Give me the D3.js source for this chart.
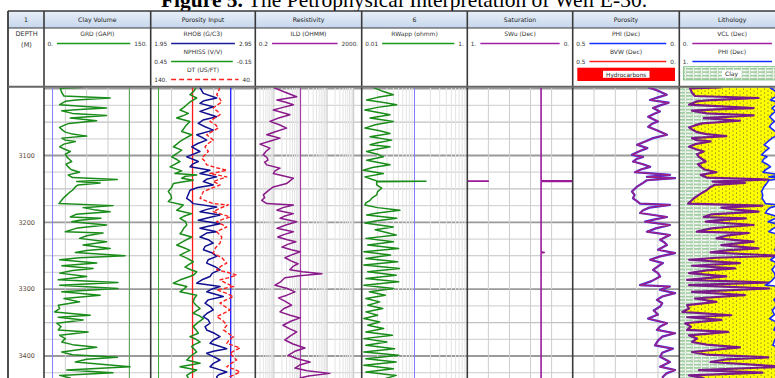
<!DOCTYPE html>
<html>
<head>
<meta charset="utf-8">
<script src="https://cdn.jsdelivr.net/npm/d3@7"></script>
<style>
  body { margin: 0; background: #fff; }
  svg { display: block; }
</style>
</head>
<body>
<svg id="chart" width="775" height="378"></svg>
<script>
// ---- Well E-30 log data: [depth (m), value] ----
const depthTicks = [3100, 3200, 3300, 3400];
const trackTitles = ["1", "Clay Volume", "Porosity Input", "Resistivity", "6", "Saturation", "Porosity", "Lithology"];

const grd = [[2998,55],[2999.5,23],[3006,25],[3011,28],[3014,93],[3017,45],[3019,30],[3024,22],[3029,88],[3031,50],[3033,25],[3037,40],[3040,88],[3044,37],[3048,74],[3052,35],[3055,28],[3058,22],[3062,26],[3065,30],[3068,40],[3071,60],[3074,25],[3077,30],[3079,44],[3083,28],[3087,22],[3091,30],[3094,37],[3098,30],[3102,32],[3106,36],[3109,39],[3113,31],[3117,34],[3121,38],[3125,50],[3129,34],[3133,40],[3136,103],[3139,46],[3141,79],[3144,48],[3147,44],[3152,40],[3156,35],[3160,31],[3164,27],[3168,24],[3172,21],[3175,97],[3178,55],[3181,70],[3184,93],[3188,45],[3192,37],[3194,80],[3197,50],[3199,39],[3204,88],[3207,60],[3209,45],[3214,30],[3216,83],[3220,60],[3224,50],[3229,88],[3234,55],[3239,93],[3242,60],[3245,44],[3250,114],[3253,50],[3256,22],[3261,74],[3265,25],[3269,69],[3272,40],[3276,22],[3281,60],[3286,20],[3290,104],[3294,22],[3299,104],[3304,25],[3309,79],[3314,28],[3319,50],[3324,20],[3329,22],[3334,15],[3339,65],[3342,20],[3346,55],[3351,18],[3356,24],[3361,20],[3364,62],[3369,22],[3374,30],[3379,25],[3383,40],[3387,74],[3394,25],[3398,40],[3402,103],[3405,60],[3409,44],[3416,121],[3421,32],[3425,97],[3429,22],[3433,37],[3440,40]];

const rhob = [[2998,2.42],[3007,2.453],[3014,2.581],[3018,2.46],[3022,2.421],[3027,2.548],[3034,2.421],[3038,2.5],[3042,2.581],[3047,2.45],[3052,2.405],[3057,2.47],[3062,2.548],[3069,2.39],[3073,2.44],[3077,2.485],[3082,2.4],[3087,2.342],[3094,2.421],[3102,2.294],[3106,2.36],[3109,2.405],[3113,2.35],[3117,2.326],[3122,2.517],[3127,2.421],[3132,2.581],[3135,2.49],[3139,2.453],[3144,2.548],[3148,2.4],[3152,2.326],[3158,2.31],[3164,2.294],[3168,2.33],[3172,2.357],[3177,2.581],[3181,2.48],[3184,2.421],[3189,2.613],[3193,2.5],[3197,2.405],[3202,2.613],[3206,2.5],[3209,2.421],[3214,2.581],[3216,2.485],[3222,2.421],[3226,2.5],[3231,2.548],[3236,2.47],[3241,2.453],[3246,2.54],[3251,2.581],[3256,2.5],[3261,2.485],[3266,2.56],[3271,2.613],[3276,2.54],[3281,2.517],[3286,2.44],[3291,2.39],[3296,2.613],[3300,2.53],[3304,2.485],[3311,2.644],[3316,2.5],[3321,2.469],[3326,2.52],[3331,2.548],[3336,2.49],[3341,2.453],[3346,2.5],[3351,2.517],[3356,2.47],[3361,2.485],[3366,2.56],[3371,2.613],[3376,2.55],[3381,2.517],[3385,2.6],[3389,2.677],[3393,2.55],[3396,2.485],[3401,2.55],[3406,2.613],[3411,2.55],[3416,2.517],[3420,2.6],[3424,2.677],[3428,2.6],[3431,2.581],[3440,2.6]];

const nphi = [[2998,0.19],[3003,0.2],[3009,0.225],[3014,0.186],[3019,0.22],[3024,0.243],[3028,0.26],[3032,0.282],[3037,0.234],[3041,0.27],[3044,0.301],[3049,0.225],[3056,0.25],[3064,0.272],[3069,0.215],[3074,0.25],[3079,0.282],[3083,0.3],[3087,0.32],[3092,0.272],[3097,0.3],[3102,0.33],[3106,0.3],[3109,0.282],[3113,0.31],[3117,0.339],[3123,0.272],[3127,0.311],[3129,0.186],[3131,0.25],[3134,0.272],[3137,0.206],[3140,0.28],[3142,0.32],[3148,0.33],[3154,0.349],[3159,0.335],[3164,0.33],[3169,0.349],[3174,0.263],[3178,0.28],[3182,0.301],[3187,0.215],[3191,0.26],[3194,0.282],[3199,0.25],[3204,0.243],[3209,0.26],[3214,0.272],[3217,0.282],[3222,0.215],[3228,0.26],[3234,0.301],[3238,0.26],[3242,0.225],[3246,0.26],[3249,0.282],[3254,0.24],[3259,0.206],[3263,0.23],[3267,0.253],[3271,0.22],[3274,0.186],[3278,0.2],[3281,0.225],[3286,0.28],[3291,0.32],[3296,0.243],[3300,0.26],[3304,0.282],[3309,0.186],[3314,0.2],[3319,0.206],[3324,0.19],[3329,0.167],[3333,0.19],[3336,0.206],[3340,0.17],[3344,0.148],[3350,0.18],[3356,0.206],[3361,0.19],[3366,0.177],[3371,0.225],[3375,0.19],[3379,0.167],[3383,0.2],[3386,0.215],[3390,0.2],[3394,0.186],[3400,0.22],[3406,0.243],[3411,0.167],[3416,0.282],[3421,0.186],[3425,0.22],[3429,0.243],[3440,0.22]];

const dt = [[2998,74],[3003,75],[3009,76.9],[3015,74],[3020,72.1],[3025,77],[3029,80.2],[3034,76],[3039,73.7],[3044,79],[3049,83.3],[3054,78],[3059,75.4],[3064,81],[3069,86.5],[3073,83],[3077,80.2],[3082,85],[3087,88.1],[3094,84.9],[3099,88],[3104,91.2],[3109,88],[3114,86.5],[3118,78],[3122,67.3],[3125,76],[3127,83.3],[3132,67.3],[3136,75],[3139,80.2],[3144,73.7],[3149,82],[3154,89.7],[3159,91],[3164,92.9],[3168,87],[3172,80.2],[3174,65.8],[3179,74],[3184,80.2],[3188,72],[3192,64.2],[3196,72],[3199,76.9],[3203,72],[3207,67.3],[3211,73],[3214,76.9],[3222,72],[3231,73.7],[3238,78],[3246,80.2],[3253,72],[3261,67.3],[3266,73],[3271,76.9],[3275,66],[3279,57.8],[3283,66],[3286,73.7],[3291,68],[3296,61],[3299,70],[3301,76.9],[3306,68],[3311,61],[3316,68],[3321,73.7],[3326,69],[3331,64.2],[3336,70],[3341,76.9],[3347,71],[3354,67.3],[3361,70.5],[3366,66],[3371,61],[3376,65],[3381,67.3],[3385,60],[3388,54.6],[3392,60],[3396,64.2],[3401,61],[3406,57.8],[3411,63],[3416,67.3],[3420,60],[3424,54.6],[3428,60],[3431,64.2],[3440,62]];

const ild = [[2998,0.95],[3005,2.5],[3012,7.2],[3017,1.3],[3020,2.6],[3024,5.4],[3028,2.2],[3032,0.95],[3036,2.2],[3039,4.0],[3044,1.5],[3049,0.71],[3054,1.6],[3059,3.0],[3064,1.2],[3069,0.54],[3074,1.7],[3078,0.8],[3083,0.3],[3089,0.71],[3094,0.5],[3099,0.4],[3103,0.55],[3107,0.6],[3110,0.45],[3114,0.54],[3119,1.7],[3123,1.1],[3127,0.95],[3131,2.6],[3134,5.4],[3138,4.0],[3142,3.0],[3147,0.95],[3153,0.6],[3159,0.4],[3163,0.45],[3167,0.35],[3172,0.54],[3174,5.4],[3178,2.2],[3182,1.3],[3187,5.4],[3191,2.4],[3194,1.7],[3199,7.2],[3204,2.8],[3209,1.3],[3214,5.4],[3218,2.5],[3222,1.4],[3226,3.2],[3229,6.7],[3233,3.3],[3237,2.0],[3241,4.5],[3244,9.6],[3249,4.4],[3253,2.6],[3258,4.6],[3262,8.1],[3266,5.2],[3271,4],[3274,12],[3277,64],[3280,9],[3283,2.6],[3289,1.8],[3294,1.1],[3299,3.2],[3304,6.2],[3309,3.1],[3313,1.5],[3318,2.6],[3324,4.6],[3329,2.4],[3334,1.7],[3339,4.1],[3343,9.6],[3348,4.3],[3354,2.2],[3359,3.8],[3364,7.2],[3370,4.2],[3376,2.6],[3382,5.2],[3388,14.7],[3393,6.1],[3399,3.4],[3404,7.7],[3409,23],[3413,10],[3418,6.2],[3422,18],[3426,127],[3430,20],[3433,9.6],[3440,8]];

const rwapp = [[2998,0.0166],[3004,0.025],[3009,0.0397],[3013,0.02],[3017,0.0124],[3021,0.028],[3024,0.046],[3028,0.02],[3032,0.0115],[3036,0.022],[3039,0.0344],[3044,0.0144],[3049,0.0397],[3054,0.018],[3059,0.0115],[3063,0.022],[3067,0.0344],[3072,0.0144],[3077,0.037],[3081,0.02],[3084,0.0144],[3087,0.0344],[3091,0.018],[3094,0.0124],[3098,0.02],[3102,0.0257],[3107,0.0124],[3111,0.022],[3114,0.0344],[3118,0.016],[3122,0.0107],[3127,0.0257],[3132,0.0115],[3136,0.016],[3138,0.0192],[3138.6,0.165],[3139.4,0.0192],[3144,0.0192],[3149,0.0239],[3154,0.02],[3159,0.0192],[3163,0.016],[3167,0.0144],[3171,0.012],[3174,0.0115],[3178,0.02],[3182,0.053],[3186,0.02],[3189,0.0124],[3194,0.046],[3198,0.018],[3201,0.0115],[3207,0.0397],[3211,0.018],[3214,0.0257],[3219,0.045],[3224,0.012],[3229,0.04],[3234,0.013],[3239,0.05],[3244,0.011],[3249,0.035],[3254,0.012],[3259,0.048],[3264,0.011],[3269,0.052],[3274,0.013],[3279,0.045],[3284,0.012],[3289,0.05],[3294,0.011],[3299,0.04],[3304,0.014],[3309,0.028],[3314,0.012],[3319,0.022],[3324,0.013],[3329,0.025],[3334,0.012],[3339,0.02],[3344,0.011],[3349,0.022],[3354,0.013],[3359,0.026],[3364,0.012],[3369,0.038],[3374,0.011],[3379,0.03],[3384,0.012],[3389,0.042],[3394,0.011],[3399,0.05],[3404,0.012],[3409,0.045],[3414,0.011],[3419,0.04],[3424,0.012],[3429,0.045],[3440,0.015]];

const swu = [[2998,0.3],[3137.8,0.3],[3138,-0.2],[3138.8,-0.2],[3139,0.3],[3244,0.3],[3245,0.27],[3246,0.3],[3440,0.3]];

const phi = [[2998,0.146],[3003,0.1],[3009,0.059],[3013,0.1],[3017,0.137],[3021,0.05],[3025,0.09],[3029,0.123],[3034,0.091],[3038,0.12],[3042,0.146],[3049,0.1],[3053,0.13],[3057,0.146],[3063,0.1],[3069,0.058],[3074,0.123],[3079,0.16],[3084,0.198],[3089,0.15],[3094,0.19],[3099,0.222],[3102,0.17],[3105,0.2],[3109,0.217],[3113,0.17],[3117,0.137],[3121,0.18],[3125,0.208],[3129,0.044],[3132,0.152],[3134,0.02],[3137,0.152],[3141,0.17],[3147,0.2],[3154,0.222],[3159,0.21],[3164,0.217],[3168,0.2],[3172,0.184],[3174,0.044],[3178,0.14],[3182,0.17],[3186,0.184],[3192,0.058],[3196,0.12],[3199,0.16],[3204,0.044],[3209,0.11],[3214,0.152],[3219,0.044],[3226,0.09],[3230,0.07],[3234,0.058],[3241,0.1],[3246,0.02],[3251,0.09],[3256,0.137],[3261,0.077],[3266,0.1],[3271,0.123],[3276,0.1],[3281,0.09],[3288,0.13],[3294,0.184],[3296,0.044],[3301,0.09],[3306,0.02],[3311,0.08],[3316,0.105],[3321,0.08],[3326,0.09],[3332,0.12],[3338,0.1],[3344,0.146],[3351,0.058],[3356,0.09],[3361,0.105],[3366,0.02],[3371,0.08],[3377,0.1],[3384,0.114],[3389,0.03],[3395,0.08],[3401,0.09],[3409,0.044],[3416,0.09],[3421,0.02],[3426,0.06],[3431,0.077],[3440,0.08]];
// water-bearing interval: bulk volume water follows total porosity
const bvw = phi;

// cutoff / matrix reference lines
const grClean = 12, grShale = 120;
const nphiLine = 0.405, dtLine = 100, rhobLine = 2.715;
const ildLine = 10, rwLine = 0.1;

// ---- layout ----
const colX = [8, 44, 150.7, 255.3, 361.7, 467.3, 572.7, 679.3, 785];
const yTop = 11, yTitleBottom = 28, yData = 87.5, yEnd = 420;
const FONT = "DejaVu Sans, Verdana, sans-serif";

const svg = d3.select("#chart");
const defs = svg.append("defs");

// header gradient
const grad = defs.append("linearGradient").attr("id", "hdr").attr("x1", 0).attr("y1", 0).attr("x2", 0).attr("y2", 1);
grad.append("stop").attr("offset", "0%").attr("stop-color", "#e9f0f9");
grad.append("stop").attr("offset", "100%").attr("stop-color", "#c6d6ec");

// clay pattern: rows of green dashes
const clay = defs.append("pattern").attr("id", "clayPat").attr("patternUnits", "userSpaceOnUse")
  .attr("width", 8).attr("height", 3.4);
clay.append("rect").attr("width", 8).attr("height", 3.4).attr("fill", "#f6f8f6");
clay.append("line").attr("x1", 0).attr("x2", 5).attr("y1", 0.8).attr("y2", 0.8).attr("stroke", "#3c963c").attr("stroke-width", 0.8);
clay.append("line").attr("x1", 6).attr("x2", 8).attr("y1", 0.8).attr("y2", 0.8).attr("stroke", "#3c963c").attr("stroke-width", 0.8);
clay.append("line").attr("x1", 2).attr("x2", 7).attr("y1", 2.5).attr("y2", 2.5).attr("stroke", "#bcdcbc").attr("stroke-width", 0.8);

// sand pattern: yellow with dots
const sand = defs.append("pattern").attr("id", "sandPat").attr("patternUnits", "userSpaceOnUse")
  .attr("width", 7).attr("height", 4);
sand.append("rect").attr("width", 7).attr("height", 4).attr("fill", "#ffff00");
sand.append("circle").attr("cx", 1.5).attr("cy", 1).attr("r", 0.6).attr("fill", "#444");
sand.append("circle").attr("cx", 5).attr("cy", 3).attr("r", 0.6).attr("fill", "#444");

// clip per track
for (let i = 1; i < colX.length - 1; i++) {
  defs.append("clipPath").attr("id", "clip" + i).append("rect")
    .attr("x", colX[i]).attr("y", yData).attr("width", colX[i + 1] - colX[i]).attr("height", yEnd - yData);
}

// ---- scales ----
const y = d3.scaleLinear().domain([3100, 3400]).range([155.5, 356]);
const xGR = d3.scaleLinear().domain([0, 150]).range([colX[1], colX[2]]);
const xRhob = d3.scaleLinear().domain([1.95, 2.95]).range([colX[2], colX[3]]);
const xNphi = d3.scaleLinear().domain([0.45, -0.15]).range([colX[2], colX[3]]);
const xDt = d3.scaleLinear().domain([140, 40]).range([colX[2], colX[3]]);
const xIld = d3.scaleLog().domain([0.2, 2000]).range([colX[3], colX[4]]);
const xRw = d3.scaleLog().domain([0.01, 1]).range([colX[4], colX[5]]);
const xSw = d3.scaleLinear().domain([1, 0]).range([colX[5], colX[6]]);
const xPhi = d3.scaleLinear().domain([0.5, 0]).range([colX[6], colX[7]]);
const xVcl = d3.scaleLinear().domain([0, 1]).range([colX[7], colX[8]]);
const xPhiL = d3.scaleLinear().domain([1, 0]).range([colX[7], colX[8]]);

const vclOf = g => Math.max(0, Math.min(1, (g - grClean) / (grShale - grClean)));

// ---- title ----
const title = svg.append("text").attr("x", 404).attr("y", 6.5).attr("text-anchor", "middle")
  .attr("font-family", "Liberation Serif, Times New Roman, serif").attr("font-size", 21.5).attr("fill", "#000");
title.append("tspan").attr("font-weight", "bold").text("Figure 5.");
title.append("tspan").text(" The Petrophysical Interpretation of Well E-30.");

// ---- header rows ----
svg.append("rect").attr("x", colX[0]).attr("y", yTop).attr("width", colX[8] - colX[0]).attr("height", yTitleBottom - yTop).attr("fill", "url(#hdr)");
svg.append("rect").attr("x", colX[0]).attr("y", yTitleBottom).attr("width", colX[8] - colX[0]).attr("height", yData - yTitleBottom).attr("fill", "#fff");

trackTitles.forEach((t, i) => {
  svg.append("text").attr("x", (colX[i] + colX[i + 1]) / 2).attr("y", 22.2).attr("text-anchor", "middle")
    .attr("font-family", FONT).attr("font-size", 6.2).attr("fill", "#1a1a1a").text(t);
});

// depth header
svg.append("text").attr("x", 26.5).attr("y", 36).attr("text-anchor", "middle").attr("font-family", FONT).attr("font-size", 6.6).attr("fill", "#333").text("DEPTH");
svg.append("text").attr("x", 26.5).attr("y", 46.5).attr("text-anchor", "middle").attr("font-family", FONT).attr("font-size", 6.6).attr("fill", "#333").text("(M)");

// curve legends: track index, row, name, left, right, colour, dash
const legends = [
  [1, 0, "GRD (GAPI)", "0.", "150.", "#1a9a1a", null],
  [2, 0, "RHOB (G/C3)", "1.95", "2.95", "#1a1a9a", null],
  [2, 1, "NPHISS (V/V)", "0.45", "-0.15", "#1a9a1a", null],
  [2, 2, "DT (US/FT)", "140.", "40.", "#ff2020", "5,3"],
  [3, 0, "ILD (OHMM)", "0.2", "2000.", "#a020a0", null],
  [4, 0, "RWapp (ohmm)", "0.01", "1.", "#1a9a1a", null],
  [5, 0, "SWu (Dec)", "1.", "0.", "#a020a0", null],
  [6, 0, "PHI (Dec)", "0.5", "0.", "#1030ff", null],
  [6, 1, "BVW (Dec)", "0.5", "0.", "#ff2020", null],
  [7, 0, "VCL (Dec)", "0.", "1.", "#a020a0", null],
  [7, 1, "PHI (Dec)", "1.", "0.", "#1030ff", null]
];
legends.forEach(([ti, row, name, lo, hi, col, dash]) => {
  const x0 = colX[ti], x1 = colX[ti + 1], cx = (x0 + x1) / 2;
  const ty = 35.5 + row * 18, ly = 43.5 + row * 18;
  svg.append("text").attr("x", cx).attr("y", ty).attr("text-anchor", "middle").attr("font-family", FONT).attr("font-size", 6).attr("fill", "#333").text(name);
  const tl = svg.append("text").attr("x", x0 + 3.5).attr("y", ly + 2).attr("font-family", FONT).attr("font-size", 5.8).attr("fill", "#333").text(lo);
  const tr = svg.append("text").attr("x", x1 - 3.5).attr("y", ly + 2).attr("text-anchor", "end").attr("font-family", FONT).attr("font-size", 5.8).attr("fill", "#333").text(hi);
  const wl = tl.node().getComputedTextLength(), wr = tr.node().getComputedTextLength();
  svg.append("line").attr("x1", x0 + 3.5 + wl + 4).attr("x2", x1 - 3.5 - wr - 4).attr("y1", ly).attr("y2", ly)
    .attr("stroke", col).attr("stroke-width", 1.3).attr("stroke-dasharray", dash);
});

// hydrocarbons legend box
svg.append("rect").attr("x", 577.3).attr("y", 67.7).attr("width", 97.7).attr("height", 13.3).attr("fill", "#ff0000");
svg.append("rect").attr("x", 603).attr("y", 70.8).attr("width", 46.5).attr("height", 7).attr("fill", "#fff");
svg.append("text").attr("x", 626.2).attr("y", 76.6).attr("text-anchor", "middle").attr("font-family", FONT).attr("font-size", 5.8).attr("fill", "#222").text("Hydrocarbons");

// clay legend box
svg.append("rect").attr("x", 683.3).attr("y", 66.7).attr("width", 100).attr("height", 13.3).attr("fill", "url(#clayPat)").attr("stroke", "#6fb86f").attr("stroke-width", 0.7);
svg.append("rect").attr("x", 722).attr("y", 70.3).attr("width", 19).attr("height", 7).attr("fill", "#fff");
svg.append("text").attr("x", 731.5).attr("y", 76.2).attr("text-anchor", "middle").attr("font-family", FONT).attr("font-size", 6).attr("fill", "#222").text("Clay");

// ---- grid ----
const grid = svg.append("g");
const hDepths = d3.range(3000, 3450, 25);
hDepths.forEach(d => {
  const major = d % 100 === 0, mid = d % 50 === 0;
  grid.append("line").attr("x1", colX[1]).attr("x2", colX[8]).attr("y1", y(d)).attr("y2", y(d))
    .attr("stroke", major ? "#9a9a9a" : (mid ? "#c2c2c2" : "#d6d6d6"))
    .attr("stroke-width", major ? 1.8 : 1.2);
});
// linear tracks: fifths
[1, 2, 5, 6].forEach(i => {
  for (let k = 1; k < 5; k++) {
    const gx = colX[i] + (colX[i + 1] - colX[i]) * k / 5;
    grid.append("line").attr("x1", gx).attr("x2", gx).attr("y1", yData).attr("y2", yEnd).attr("stroke", "#cdcdcd").attr("stroke-width", 1);
  }
});
// logarithmic tracks
function logGrid(scale, i) {
  const [lo, hi] = scale.domain();
  for (let e = Math.floor(Math.log10(lo)); e <= Math.ceil(Math.log10(hi)); e++) {
    for (let m = 1; m <= 9; m++) {
      const v = m * Math.pow(10, e);
      if (v <= lo * 1.0001 || v >= hi * 0.9999) continue;
      grid.append("line").attr("x1", scale(v)).attr("x2", scale(v)).attr("y1", yData).attr("y2", yEnd)
        .attr("stroke", m === 1 ? "#c4c4c4" : "#e4e4e4").attr("stroke-width", 1);
    }
  }
}
logGrid(xIld, 3);
logGrid(xRw, 4);

// ---- curves ----
function curve(i, data, sx, colour, width, dash, opacity) {
  return svg.append("path").datum(data).attr("clip-path", `url(#clip${i})`)
    .attr("d", d3.line().x(d => sx(d[1])).y(d => y(d[0])))
    .attr("fill", "none").attr("stroke", colour).attr("stroke-width", width)
    .attr("stroke-dasharray", dash || null).attr("stroke-linejoin", "round")
    .attr("opacity", opacity == null ? 1 : opacity);
}
function vline(i, x, colour, width, opacity) {
  svg.append("line").attr("x1", x).attr("x2", x).attr("y1", yData).attr("y2", yEnd)
    .attr("stroke", colour).attr("stroke-width", width).attr("opacity", opacity == null ? 1 : opacity);
}

// track 1: clay volume
vline(1, xGR(grClean), "#8080ff", 1);
vline(1, xGR(grShale), "#4f9f4f", 1);
curve(1, grd, xGR, "#1a8c1a", 1.5);

// track 2: porosity input
vline(2, xNphi(nphiLine), "#33aa33", 1);
vline(2, xDt(dtLine), "#ff1a1a", 1.3);
vline(2, xRhob(rhobLine), "#1a1aff", 1.3);
curve(2, nphi, xNphi, "#1a8c1a", 1.5);
curve(2, rhob, xRhob, "#101090", 1.5);
curve(2, dt, xDt, "#ff2020", 1.4, "4,2");

// track 3: resistivity
vline(3, xIld(ildLine), "#a040a0", 1.2);
curve(3, ild, xIld, "#8a1a8a", 1.5);

// track 4: apparent water resistivity
vline(4, xRw(rwLine), "#8080ff", 1);
curve(4, rwapp, xRw, "#1a8c1a", 1.5);

// track 5: saturation; values below zero wrap back in from the left edge
curve(5, swu, xSw, "#9a1a9a", 1.6);
curve(5, swu, d => xSw(d + 1), "#9a1a9a", 1.2);

// track 6: porosity
curve(6, phi, xPhi, "#2a2aff", 2.2);
curve(6, bvw, xPhi, "#ff1a1a", 1.5, null, 0.55);

// track 7: lithology
svg.append("path").datum(phi).attr("clip-path", "url(#clip7)")
  .attr("d", d3.area().x0(colX[7]).x1(d => xPhiL(d[1])).y(d => y(d[0])))
  .attr("fill", "url(#sandPat)");
svg.append("path").datum(grd).attr("clip-path", "url(#clip7)")
  .attr("d", d3.area().x0(colX[7]).x1(d => xVcl(vclOf(d[1]))).y(d => y(d[0])))
  .attr("fill", "url(#clayPat)");
curve(7, grd.map(d => [d[0], vclOf(d[1])]), xVcl, "#7a1a8a", 2.2);
curve(7, phi, xPhiL, "#1a2aff", 1.6);

// ---- depth labels ----
depthTicks.forEach(d => {
  svg.append("text").attr("x", 35).attr("y", y(d) + 2.3).attr("text-anchor", "end").attr("font-family", FONT)
    .attr("font-size", 6.5).attr("fill", "#5a4a3a").text(d);
});

// ---- borders ----
const border = svg.append("g").attr("stroke", "#3a3a3a").attr("fill", "none");
colX.forEach((x, i) => {
  border.append("line").attr("x1", x).attr("x2", x).attr("y1", yTop).attr("y2", yEnd).attr("stroke-width", i === 0 ? 1.8 : 1.6);
});
border.append("line").attr("x1", colX[0]).attr("x2", colX[8]).attr("y1", yTop).attr("y2", yTop).attr("stroke-width", 1.6);
border.append("line").attr("x1", colX[0]).attr("x2", colX[8]).attr("y1", yTitleBottom).attr("y2", yTitleBottom).attr("stroke-width", 1.2);
border.append("line").attr("x1", colX[0]).attr("x2", colX[8]).attr("y1", yData - 0.8).attr("y2", yData - 0.8).attr("stroke", "#666").attr("stroke-width", 2);
</script>
</body>
</html>
